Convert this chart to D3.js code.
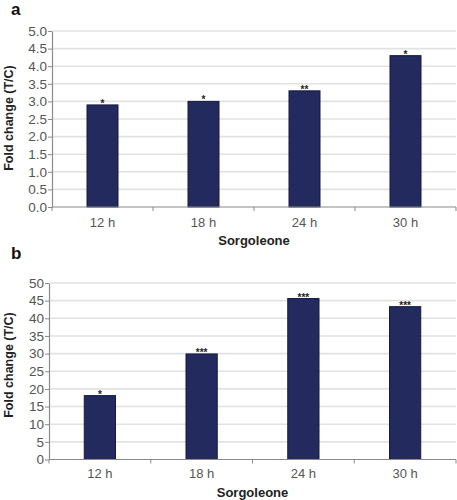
<!DOCTYPE html>
<html>
<head>
<meta charset="utf-8">
<script src="https://cdn.jsdelivr.net/npm/d3@7/dist/d3.min.js"></script>
<style>
html,body{margin:0;padding:0;background:#fff;}
svg{display:block;font-family:"Liberation Sans",Arial,sans-serif;}
</style>
</head>
<body>
<svg id="chart" width="457" height="500"></svg>
<script>
const categories = ["12 h", "18 h", "24 h", "30 h"];
const valuesA = [2.9, 3.0, 3.3, 4.3];
const starsA = ["*", "*", "**", "*"];
const ticksA = [0, 0.5, 1.0, 1.5, 2.0, 2.5, 3.0, 3.5, 4.0, 4.5, 5.0];
const valuesB = [18.1, 29.9, 45.6, 43.3];
const starsB = ["*", "***", "***", "***"];
const ticksB = [0, 5, 10, 15, 20, 25, 30, 35, 40, 45, 50];

const svg = d3.select("#chart");

function panel(cfg) {
  const g = svg.append("g");
  const x = d3.scaleBand().domain(categories).range([cfg.left, cfg.right])
    .paddingInner(0.693).paddingOuter(0.3465);
  const y = d3.scaleLinear().domain([0, cfg.max]).range([cfg.bottom, cfg.top]);

  // gridlines
  g.append("g").selectAll("line").data(cfg.ticks.filter(d => d > 0)).join("line")
    .attr("x1", cfg.left + 1).attr("x2", cfg.right)
    .attr("y1", d => y(d)).attr("y2", d => y(d))
    .attr("stroke", "#e2e2e2").attr("stroke-width", 1.6);

  // bars
  g.append("g").selectAll("rect").data(cfg.values).join("rect")
    .attr("x", (d, i) => x(categories[i]))
    .attr("width", x.bandwidth())
    .attr("y", d => y(d))
    .attr("height", d => y(0) - y(d))
    .attr("fill", "#222a5e").attr("stroke", "#151b45").attr("stroke-width", 1);

  // stars
  g.append("g").selectAll("text").data(cfg.values).join("text")
    .attr("x", (d, i) => x(categories[i]) + x.bandwidth() / 2)
    .attr("y", d => y(d) + 2)
    .attr("text-anchor", "middle")
    .attr("font-size", 10).attr("font-weight", "bold").attr("fill", "#222")
    .text((d, i) => cfg.stars[i]);

  // y axis
  const ya = g.append("g").attr("transform", `translate(${cfg.left},0)`)
    .call(d3.axisLeft(y).tickValues(cfg.ticks).tickFormat(cfg.fmt).tickSize(4).tickPadding(1).tickSizeOuter(0));
  ya.select(".domain").attr("stroke", "#8a8a8a").attr("stroke-width", 1.2);
  ya.selectAll(".tick line").attr("stroke", "#8a8a8a");
  ya.selectAll(".tick text").attr("font-size", 13.5).attr("fill", "#555")
    .attr("font-family", "Liberation Sans, Arial, sans-serif");

  // x axis
  const xa = g.append("g").attr("transform", `translate(0,${cfg.bottom})`);
  xa.append("line").attr("x1", cfg.left).attr("x2", cfg.right)
    .attr("y1", 0).attr("y2", 0).attr("stroke", "#8a8a8a").attr("stroke-width", 1.2);
  const bounds = d3.range(categories.length + 1).map(i => x.range()[0] + i * x.step());
  xa.selectAll("line.tk").data(bounds).join("line").attr("class", "tk")
    .attr("x1", d => d).attr("x2", d => d).attr("y1", 0).attr("y2", 4)
    .attr("stroke", "#8a8a8a");
  xa.selectAll("text").data(categories).join("text")
    .attr("x", d => x(d) + x.bandwidth() / 2)
    .attr("y", cfg.xlabelY)
    .attr("text-anchor", "middle").attr("font-size", 13).attr("fill", "#555")
    .text(d => d);

  // axis titles
  g.append("text").attr("x", (cfg.left + cfg.right) / 2).attr("y", cfg.bottom + cfg.titleY)
    .attr("text-anchor", "middle").attr("font-size", 13).attr("font-weight", "bold").attr("fill", "#222")
    .text("Sorgoleone");
  g.append("text").attr("transform", `translate(13,${cfg.ycenter}) rotate(-90)`)
    .attr("text-anchor", "middle").attr("font-size", 12.5).attr("font-weight", "bold").attr("fill", "#222")
    .text("Fold change (T/C)");

  // panel letter
  g.append("text").attr("x", 11).attr("y", cfg.letterY)
    .attr("font-size", 17).attr("font-weight", "bold").attr("fill", "#111")
    .text(cfg.letter);
}

panel({left: 52, right: 456, top: 31, bottom: 207, max: 5, ticks: ticksA, fmt: d3.format(".1f"),
  values: valuesA, stars: starsA, xlabelY: 20, titleY: 38, ycenter: 118, letter: "a", letterY: 15});
panel({left: 49, right: 456, top: 283, bottom: 459.5, max: 50, ticks: ticksB, fmt: d3.format("d"),
  values: valuesB, stars: starsB, xlabelY: 18, titleY: 37, ycenter: 365, letter: "b", letterY: 259});
</script>
</body>
</html>
